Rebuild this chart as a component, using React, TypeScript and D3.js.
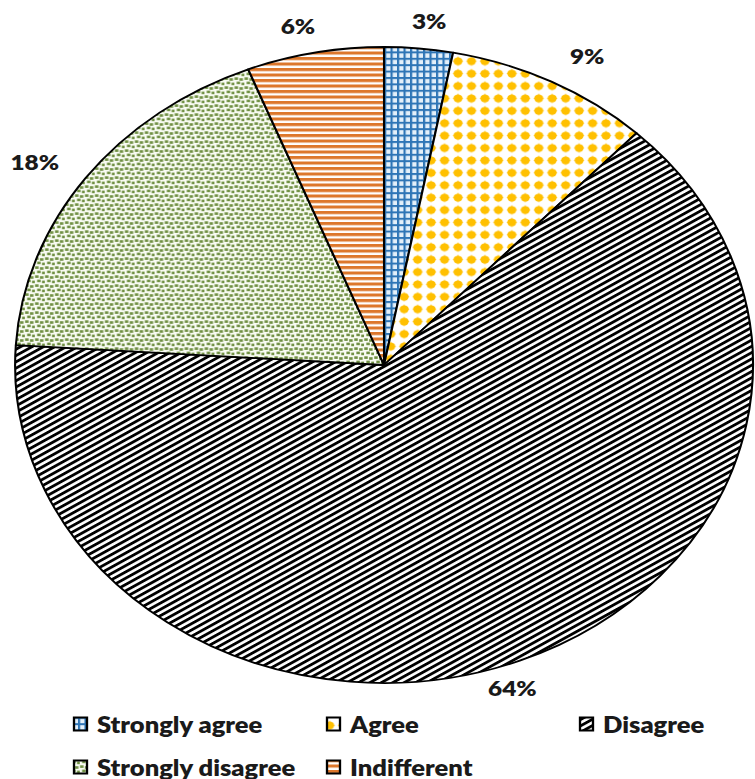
import React from "react";
import * as d3 from "d3";

const categories = ["Strongly agree", "Agree", "Disagree", "Strongly disagree", "Indifferent"];
const values = [3, 9, 64, 18, 6];
const valueLabels = ["3%", "9%", "64%", "18%", "6%"];
const patternIds = ["pSA", "pA", "pD", "pSD", "pI"];

// layout
const W = 755;
const H = 779;
const SX = 1.16; // horizontal stretch of the whole picture
const CX = 384 / SX;
const CY = 365;
const R = 318;
const LABEL_K = 1.1;
const labelNudge: [number, number][] = [
  [7, 4],
  [19, 3],
  [-21, -2],
  [-21, 3],
  [-10, 4.5],
];

export default function App() {
  const pie = d3.pie<number>().sort(null).value((d) => d)(values);
  const arc = d3.arc<d3.PieArcDatum<number>>().innerRadius(0).outerRadius(R);

  const font = "Lato, 'Open Sans', sans-serif";

  return (
    <svg
      width={W}
      height={H}
      style={{ position: "absolute", left: 0, top: 0, background: "#fff" }}
    >
      <defs>
        <pattern id="pSA" patternUnits="userSpaceOnUse" width={5.6} height={6.4}>
          <rect width={5.6} height={6.4} fill="#E4F0FA" />
          <rect x={0} y={0} width={1.9} height={6.4} fill="#2E75B6" />
          <rect x={0} y={0} width={5.6} height={2.0} fill="#2E75B6" />
        </pattern>
        <pattern id="pA" patternUnits="userSpaceOnUse" width={11.6} height={12.4}>
          <rect width={11.6} height={12.4} fill="#fff" />
          <circle cx={5.8} cy={6.2} r={3.9} fill="#FFC000" />
          <path d="M5.8,0.9 L7.3,6.2 L5.8,11.5 L4.3,6.2 Z" fill="#FFC000" />
          <path d="M0.9,6.2 L5.8,4.7 L10.7,6.2 L5.8,7.7 Z" fill="#FFC000" />
        </pattern>
        <pattern
          id="pD"
          patternUnits="userSpaceOnUse"
          width={10}
          height={5.3}
          patternTransform="rotate(-32.6)"
        >
          <rect width={10} height={5.3} fill="#fff" />
          <rect y={0} width={10} height={2.7} fill="#000" />
        </pattern>
        <pattern id="pSD" patternUnits="userSpaceOnUse" width={8.6} height={9}>
          <rect width={8.6} height={9} fill="#f8fbf2" />
          <rect x={0.2} y={0.3} width={3} height={2.6} fill="#6F8F42" />
          <rect x={4.4} y={1.2} width={3} height={2.6} fill="#6F8F42" />
          <rect x={2.0} y={4.6} width={3} height={2.6} fill="#6F8F42" />
          <rect x={6.2} y={5.6} width={2.4} height={2.6} fill="#6F8F42" />
        </pattern>
        <pattern id="pI" patternUnits="userSpaceOnUse" width={10} height={5.5}>
          <rect width={10} height={5.5} fill="#fff" />
          <rect y={0} width={10} height={3.1} fill="#DD772B" />
        </pattern>
      </defs>
      <g transform={`scale(${SX},1)`}>
        <g transform={`translate(${CX},${CY})`}>
          {pie.map((d, i) => (
            <path
              key={categories[i]}
              d={arc(d) || ""}
              fill={`url(#${patternIds[i]})`}
              stroke="#000"
              strokeWidth={1.8}
              strokeLinejoin="round"
            />
          ))}
          {pie.map((d, i) => {
            const a = (d.startAngle + d.endAngle) / 2;
            const x = Math.sin(a) * R * LABEL_K + labelNudge[i][0] / SX;
            const y = -Math.cos(a) * R * LABEL_K + labelNudge[i][1];
            return (
              <text
                key={"l" + i}
                x={x}
                y={y}
                textAnchor="middle"
                dominantBaseline="central"
                fontFamily={font}
                fontWeight={800}
                fontSize={21}
                fill="#1a1a1a"
              >
                {valueLabels[i]}
              </text>
            );
          })}
        </g>
        {categories.map((c, i) => {
          const col = i % 3;
          const row = Math.floor(i / 3);
          const mx = (74 + col * 253) / SX;
          const my = 724 + row * 43;
          return (
            <g key={"lg" + i}>
              <rect
                x={mx}
                y={my - 6.5}
                width={13 / SX}
                height={13}
                fill={`url(#${patternIds[i]})`}
                stroke="#000"
                strokeWidth={2}
              />
              <text
                x={mx + 23 / SX}
                y={my}
                dominantBaseline="central"
                fontFamily={font}
                fontWeight={800}
                fontSize={22}
                fill="#1a1a1a"
              >
                {c}
              </text>
            </g>
          );
        })}
      </g>
    </svg>
  );
}
